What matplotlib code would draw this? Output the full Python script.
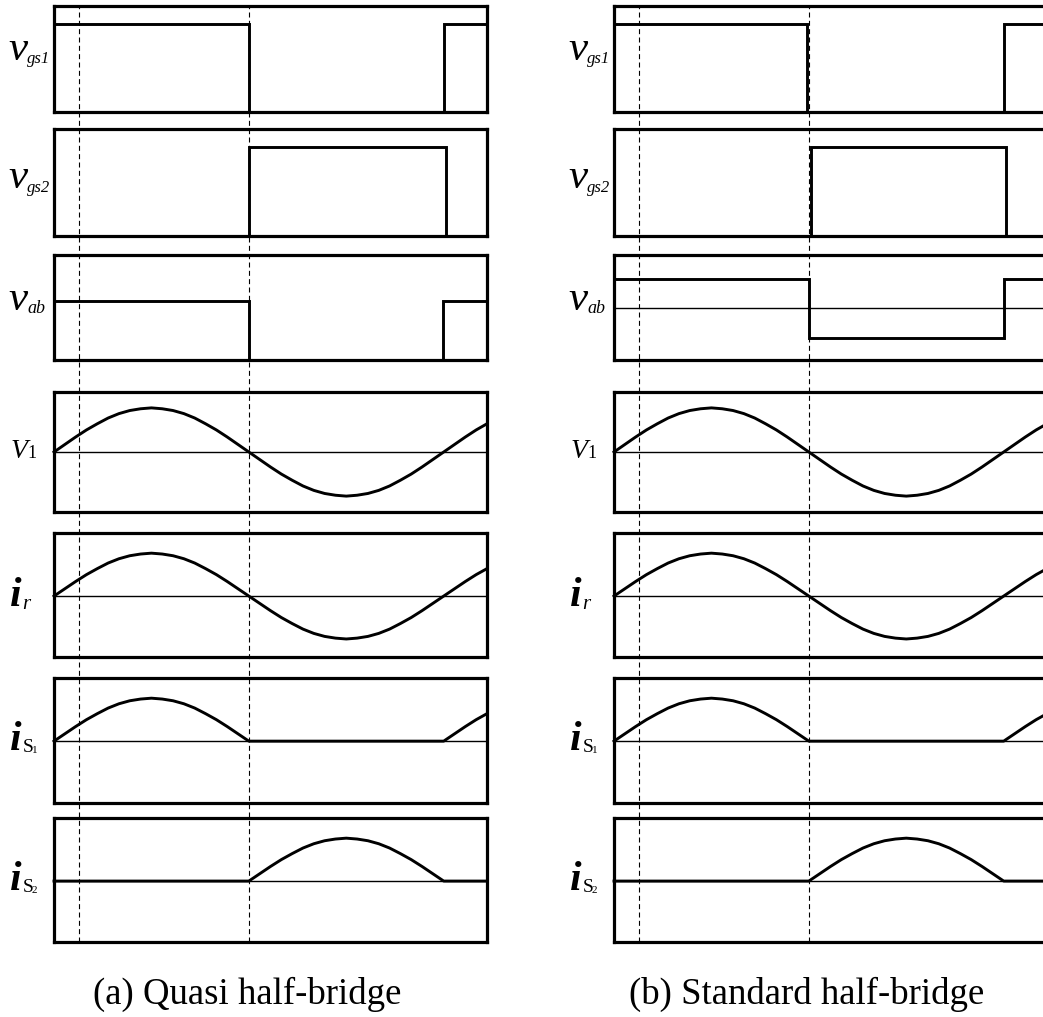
import numpy as np
import matplotlib
matplotlib.use('Agg')
import matplotlib.pyplot as plt

# ---------------------------------------------------------------------------
# data (phase in degrees, one panel spans 0..400 deg)
# ---------------------------------------------------------------------------

t_max = 400
dash_phase = [23, 180]

# gate / bridge voltages: switching edges and levels (steps-post)
a_gs1_t = [0, 180, 360, 400]
a_gs1_v = [1, 0, 1, 1]
a_gs2_t = [0, 180, 362, 400]
a_gs2_v = [0, 1, 0, 0]
a_vab_t = [0, 180, 359, 400]
a_vab_v = [1, 0, 1, 1]

b_gs1_t = [0, 178, 360, 400]
b_gs1_v = [1, 0, 1, 1]
b_gs2_t = [0, 182, 362, 400]
b_gs2_v = [0, 1, 0, 0]
b_vab_t = [0, 180, 360, 400]
b_vab_v = [0.5, -0.5, 0.5, 0.5]

# sampled sinusoidal quantities (read every 10 deg)
t_s = list(range(0, 410, 10))
v1 = [0, .17, .34, .50, .64, .77, .87, .94, .98, 1, .98, .94, .87, .77, .64, .50, .34, .17,
      0, -.17, -.34, -.50, -.64, -.77, -.87, -.94, -.98, -1, -.98, -.94, -.87, -.77, -.64,
      -.50, -.34, -.17, 0, .17, .34, .50, .64]
ir = [0, .17, .34, .50, .64, .77, .87, .94, .98, 1, .98, .94, .87, .77, .64, .50, .34, .17,
      0, -.17, -.34, -.50, -.64, -.77, -.87, -.94, -.98, -1, -.98, -.94, -.87, -.77, -.64,
      -.50, -.34, -.17, 0, .17, .34, .50, .64]
is1 = [0, .17, .34, .50, .64, .77, .87, .94, .98, 1, .98, .94, .87, .77, .64, .50, .34, .17,
       0, 0, 0, 0, 0, 0, 0, 0, 0, 0, 0, 0, 0, 0, 0,
       0, 0, 0, 0, .17, .34, .50, .64]
is2 = [0, 0, 0, 0, 0, 0, 0, 0, 0, 0, 0, 0, 0, 0, 0, 0, 0, 0,
       0, .17, .34, .50, .64, .77, .87, .94, .98, 1, .98, .94, .87, .77, .64,
       .50, .34, .17, 0, 0, 0, 0, 0]

captions = ['(a) Quasi half-bridge', '(b) Standard half-bridge']

# ---------------------------------------------------------------------------
# layout (pixels)
# ---------------------------------------------------------------------------

W, H = 1043, 1017
fig = plt.figure(figsize=(W / 100, H / 100), dpi=100)

rows = [(6, 112), (129, 236), (255, 360), (392, 512), (533, 657), (678, 803), (818, 942)]
cols = [(54, 487), (614, 1047)]
ylims = [(0, 1.2), (0, 1.2), None, (-1.36, 1.36), (-1.42, 1.47), (-1.44, 1.47), (-1.42, 1.47)]

BLW = 2.3   # box
SLW = 2.1   # signal
ZLW = 1.0   # zero line

SERIF = 'Liberation Serif'


def add_ax(l, r, t, b):
    return fig.add_axes([l / W, 1 - b / H, (r - l) / W, (b - t) / H])


def ftext(x, y, s, size, style='normal', weight='normal'):
    fig.text(x / W, 1 - y / H, s, fontsize=size, family=SERIF, style=style,
             weight=weight, ha='left', va='baseline')


steps = [[(a_gs1_t, a_gs1_v), (a_gs2_t, a_gs2_v), (a_vab_t, a_vab_v)],
         [(b_gs1_t, b_gs1_v), (b_gs2_t, b_gs2_v), (b_vab_t, b_vab_v)]]
curves = [v1, ir, is1, is2]

for c, (l, r) in enumerate(cols):
    for k, (t, b) in enumerate(rows):
        ax = add_ax(l, r, t, b)
        ax.set_xlim(0, t_max)
        if k < 3:
            tt, vv = steps[c][k]
            ax.plot(tt, vv, drawstyle='steps-post', color='k', lw=SLW,
                    solid_joinstyle='miter', clip_on=False)
            if k == 2:
                if c == 0:
                    ax.set_ylim(0, 1.78)
                else:
                    ax.set_ylim(-0.88, 0.9)
                    ax.axhline(0, color='k', lw=ZLW)
            else:
                ax.set_ylim(*ylims[k])
        else:
            ax.set_ylim(*ylims[k])
            ax.axhline(0, color='k', lw=ZLW)
            ax.plot(t_s, curves[k - 3], color='k', lw=SLW, clip_on=False)
        ax.set_xticks([])
        ax.set_yticks([])
        for sp in ax.spines.values():
            sp.set_linewidth(BLW)

    # dashed guides over the whole column
    ov = add_ax(l, r, rows[0][0], rows[-1][1])
    ov.set_xlim(0, t_max)
    ov.set_ylim(0, 1)
    ov.patch.set_alpha(0)
    ov.axis('off')
    for p in dash_phase:
        ov.axvline(p, color='k', lw=0.8, dashes=(4.5, 3))

    # labels
    dx = 0 if c == 0 else 560
    ftext(dx + 8, 60, 'v', 31, 'italic')
    ftext(dx + 27, 63, 'gs1', 12, 'italic')
    ftext(dx + 8, 188, 'v', 31, 'italic')
    ftext(dx + 27, 192, 'gs2', 12, 'italic')
    ftext(dx + 8, 310, 'v', 31, 'italic')
    ftext(dx + 27, 313, 'ab', 13, 'italic')
    ftext(dx + 11, 458, 'V', 20, 'italic')
    ftext(dx + 27, 458, '1', 13)
    ftext(dx + 10, 606, 'i', 30, 'italic', 'bold')
    ftext(dx + 22, 609, 'r', 15, 'italic')
    ftext(dx + 10, 750, 'i', 30, 'italic', 'bold')
    ftext(dx + 23, 752, 'S', 14)
    ftext(dx + 32, 753, '1', 8)
    ftext(dx + 10, 890, 'i', 30, 'italic', 'bold')
    ftext(dx + 23, 892, 'S', 14)
    ftext(dx + 32, 893, '2', 8)

    fig.text((247 + 560 * c) / W, 1 - 1004 / H, captions[c], fontsize=26.5,
             family=SERIF, ha='center', va='baseline')

fig.savefig('out.png', dpi=100)
